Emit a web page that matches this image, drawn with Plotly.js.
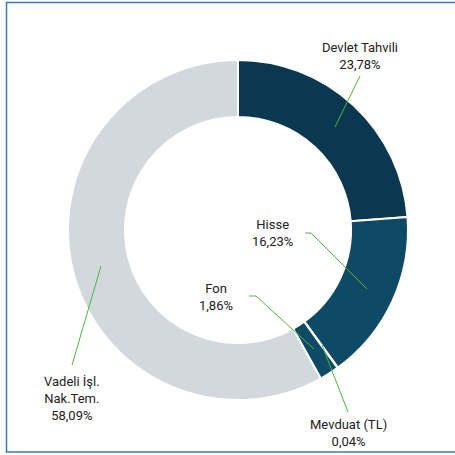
<!DOCTYPE html>
<html>
<head>
<meta charset="utf-8">
<script src="https://cdn.plot.ly/plotly-3.0.1.min.js"></script>
<style>html,body{margin:0;padding:0;background:#fff;}#chart{width:455px;height:455px;}</style>
</head>
<body>
<div id="chart"></div>
<script>
var categories = ["Devlet Tahvili", "Hisse", "Mevduat (TL)", "Fon", "Vadeli İşl.<br>Nak.Tem."];
var values = [23.78, 16.23, 0.04, 1.86, 58.09];
var valueLabels = ["23,78%", "16,23%", "0,04%", "1,86%", "58,09%"];
var colors = ["#0a3850", "#0e4a66", "#0e4a66", "#0e4a66", "#d3d8de"];

var W = 455, H = 455;
function px(x) { return x / W; }
function py(y) { return 1 - y / H; }

// label centres and leader paths (pixel coords)
var labelPos = [
  {x: 360, y: 56},
  {x: 272, y: 233},
  {x: 348, y: 433},
  {x: 216, y: 297},
  {x: 72, y: 398}
];
var leaders = [
  [[360, 76], [335, 127]],
  [[305, 233], [311, 233], [367, 289]],
  [[348, 412], [322, 345]],
  [[249, 296], [256, 296], [314, 349]],
  [[72, 365], [101, 266]]
];

var annotations = categories.map(function (c, i) {
  return {
    xref: 'paper', yref: 'paper',
    x: px(labelPos[i].x), y: py(labelPos[i].y),
    xanchor: 'center', yanchor: 'middle',
    text: c + '<br>' + valueLabels[i],
    showarrow: false,
    align: 'center',
    font: {family: 'Roboto, "Noto Sans", sans-serif', size: 13, color: '#222222'}
  };
});

var shapes = leaders.map(function (pts) {
  var d = pts.map(function (p, k) { return (k ? 'L' : 'M') + px(p[0]) + ',' + py(p[1]); }).join(' ');
  return {type: 'path', xref: 'paper', yref: 'paper', path: d, line: {color: '#4cb83a', width: 1}};
});
shapes.push({
  type: 'rect', xref: 'paper', yref: 'paper',
  x0: px(6.5), x1: px(470), y0: py(452), y1: py(2.5),
  line: {color: '#3d79b8', width: 1.5}, fillcolor: 'rgba(0,0,0,0)', layer: 'below'
});

var cx = 238, cy = 230, r = 170;
var trace = {
  type: 'pie',
  labels: categories,
  values: values,
  sort: false,
  direction: 'clockwise',
  rotation: 0,
  hole: 0.665,
  textinfo: 'none',
  hoverinfo: 'label+percent',
  marker: {colors: colors, line: {color: '#ffffff', width: 2}},
  domain: {x: [px(cx - r), px(cx + r)], y: [py(cy + r), py(cy - r)]},
  showlegend: false
};

var layout = {
  width: W, height: H,
  margin: {l: 0, r: 0, t: 0, b: 0},
  paper_bgcolor: '#ffffff',
  showlegend: false,
  annotations: annotations,
  shapes: shapes
};

Plotly.newPlot('chart', [trace], layout, {displayModeBar: false, staticPlot: true});
</script>
</body>
</html>
